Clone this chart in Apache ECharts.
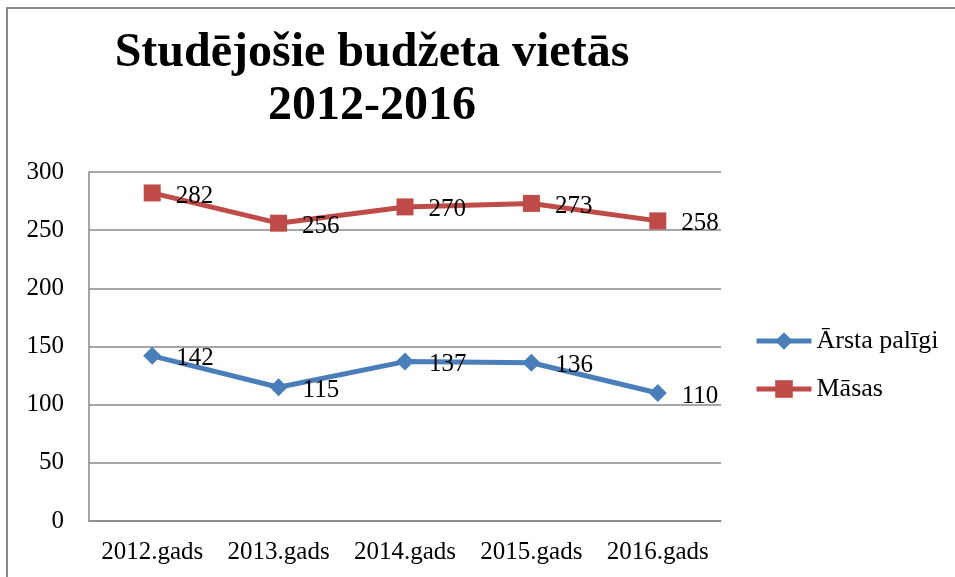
<!DOCTYPE html>
<html><head><meta charset="utf-8">
<script src="https://cdn.jsdelivr.net/npm/echarts@6/dist/echarts.min.js"></script>
<style>html,body{margin:0;padding:0;background:#fff}#c{width:955px;height:577px}</style>
</head><body><div id="c"></div>
<script>
const categories = ['2012.gads','2013.gads','2014.gads','2015.gads','2016.gads'];
const arstaPaligi = [142,115,137,136,110];
const masas = [282,256,270,273,258];
const seriesNames = ['Ārsta palīgi','Māsas'];
const font = '"Liberation Serif","Times New Roman",serif';
const chart = echarts.init(document.getElementById('c'));
const lbl = {show:true, position:'right', distance:15, offset:[0,3], color:'#000', fontFamily:font, fontSize:25};
chart.setOption({
  animation:false,
  graphic:[{type:'rect', shape:{x:7,y:8,width:1000,height:620}, style:{fill:'none', stroke:'#888', lineWidth:2}, z:-1}],
  title:{text:'Studējošie budžeta vietās\n2012-2016', left:367, textAlign:'center', top:22,
    textStyle:{fontFamily:font, fontSize:48, fontWeight:'bold', color:'#000', lineHeight:53}},
  legend:{orient:'vertical', left:749, top:323, itemWidth:55, itemHeight:22, itemGap:22,
    lineStyle:{width:5}, textStyle:{fontFamily:font, fontSize:26, color:'#000'}, data:seriesNames},
  grid:{left:89, right:234, top:172, bottom:56, containLabel:false},
  xAxis:{type:'category', data:categories, boundaryGap:true,
    axisLine:{lineStyle:{color:'#888', width:1.5}}, axisTick:{show:false},
    axisLabel:{color:'#000', fontFamily:font, fontSize:25, margin:19, interval:0}},
  yAxis:{type:'value', min:0, max:300, interval:50,
    axisLine:{show:true, lineStyle:{color:'#888', width:1.5}}, axisTick:{show:false},
    splitLine:{lineStyle:{color:'#888', width:1.5}},
    axisLabel:{color:'#000', fontFamily:font, fontSize:25, margin:25}},
  series:[
    {name:seriesNames[0], type:'line', data:arstaPaligi, symbol:'diamond', symbolSize:18,
      lineStyle:{color:'#4A7EBB', width:5}, itemStyle:{color:'#4A7EBB'}, label:lbl},
    {name:seriesNames[1], type:'line', data:masas, symbol:'rect', symbolSize:17,
      lineStyle:{color:'#BE4B48', width:5}, itemStyle:{color:'#BE4B48'}, label:lbl}
  ]
});
</script></body></html>
